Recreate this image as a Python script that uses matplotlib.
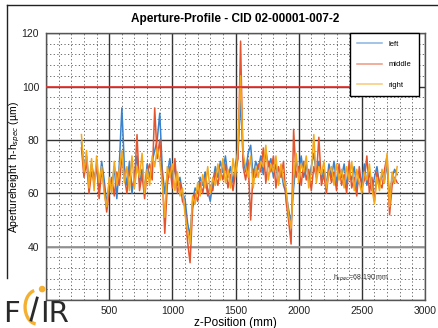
import matplotlib
matplotlib.use("Agg")
import matplotlib.pyplot as plt
import numpy as np
from matplotlib.lines import Line2D
from matplotlib.patches import Arc, Circle

plt.rcParams['font.family'] = ['Liberation Sans', 'DejaVu Sans']

# z positions (mm), one reading every 20 mm
z = np.arange(280, 2781, 20)

left = [79, 70, 74, 64, 71, 66, 69, 62, 72, 65, 56, 64,
        62, 70, 58, 71, 92, 70, 63, 72, 60, 67,
        74, 64, 69, 61, 71, 66, 72, 76, 80, 90,
        69, 60, 67, 73, 65, 70, 63, 66, 60, 58,
        49, 44, 57, 62, 60, 66, 63, 68, 61, 57,
        64, 70, 66, 72, 68, 74, 66, 70, 64, 71,
        76, 95, 73, 68, 75, 78, 66, 72, 69, 74,
        67, 76, 70, 73, 66, 71, 64, 69, 63, 60,
        54, 49, 62, 72, 68, 74, 66, 71, 64, 70,
        75, 67, 72, 65, 69, 63, 71, 66, 72, 64,
        69, 66, 71, 63, 68, 65, 70, 62, 67, 64,
        71, 63, 68, 61, 66, 70, 63, 67, 65, 71,
        58, 66, 69, 67]

middle = [77, 66, 72, 60, 68, 64, 71, 58, 69, 62, 53, 61,
          66, 59, 68, 63, 74, 66, 60, 69, 63, 64,
          82, 61, 67, 58, 68, 71, 65, 92, 73, 80,
          66, 45, 63, 70, 62, 73, 60, 64, 57, 55,
          42, 34, 54, 60, 57, 64, 60, 66, 59, 63,
          61, 68, 63, 69, 65, 71, 62, 67, 61, 68,
          73, 117, 70, 65, 72, 50, 69, 66, 71, 68,
          77, 64, 72, 68, 74, 62, 70, 66, 72, 57,
          50, 41, 84, 66, 70, 63, 72, 65, 69, 61,
          70, 66, 81, 63, 67, 60, 69, 64, 68, 61,
          71, 63, 67, 60, 72, 62, 66, 59, 70, 62,
          65, 74, 60, 66, 57, 68, 64, 62, 69, 74,
          52, 63, 66, 64]

right = [82, 68, 76, 62, 73, 61, 74, 64, 70, 60, 55, 66,
         60, 72, 63, 69, 76, 64, 70, 61, 74, 62,
         70, 66, 75, 60, 69, 63, 74, 70, 77, 72,
         64, 51, 70, 66, 71, 61, 68, 59, 62, 52,
         46, 41, 59, 56, 64, 59, 67, 62, 70, 60,
         66, 63, 71, 65, 73, 64, 69, 62, 73, 66,
         78, 104, 75, 70, 66, 74, 62, 70, 66, 72,
         70, 78, 65, 71, 68, 74, 63, 71, 65, 62,
         52, 47, 66, 75, 64, 71, 68, 74, 62, 68,
         82, 64, 70, 67, 72, 62, 68, 70, 63, 71,
         65, 69, 62, 70, 65, 72, 61, 69, 64, 60,
         68, 65, 71, 62, 56, 66, 61, 69, 64, 75,
         55, 68, 64, 70]

upper_limit = 100
lower_limit = 40
h_spec = "68.190"

fig = plt.figure(figsize=(4.39, 3.28), dpi=100)
ax = fig.add_axes([0.105, 0.085, 0.863, 0.814])

ax.plot(z, left, color='#3a82cc', lw=1.1, label='left')
ax.plot(z, middle, color='#e2552f', lw=1.1, label='middle')
ax.plot(z, right, color='#f3a81c', lw=1.1, label='right')

ax.set_xlim(0, 3000)
ax.set_ylim(20, 120)
ax.set_xticks(np.arange(0, 3001, 500))
ax.set_xticklabels([''] + [str(v) for v in range(500, 3001, 500)])
ax.set_yticks(np.arange(20, 121, 20))
ax.set_yticklabels([''] + [str(v) for v in range(40, 121, 20)])
ax.set_xticks(np.arange(0, 3001, 100), minor=True)
ax.set_yticks(np.arange(20, 121, 4), minor=True)
ax.grid(which='major', color='#333333', lw=1.0, ls='-')
ax.grid(which='minor', color='#555555', lw=0.6, ls=(0, (1.5, 2.8)))
ax.set_axisbelow(True)
ax.tick_params(which='both', length=0, labelsize=7.5, colors='#222222')
ax.tick_params(axis='y', pad=5)
ax.tick_params(axis='x', pad=4)
for s in ax.spines.values():
    s.set_color('#555555')
    s.set_linewidth(1.0)

ax.axhline(lower_limit, color='#999999', lw=1.3, zorder=1.5)

leg = ax.legend(loc='upper right', bbox_to_anchor=(0.984, 1.0), borderaxespad=0,
                fontsize=5.5, handlelength=3.2, handletextpad=0.9,
                labelspacing=1.7, borderpad=1.0, fancybox=False,
                framealpha=1, edgecolor='black')
leg.get_frame().set_linewidth(1.0)
for h in leg.get_lines():
    h.set_alpha(0.6)

ax.hlines(upper_limit, ax.get_xlim()[0], z[-1], color='#e8302a', lw=1.2, zorder=5)

ax.text(0.757, 0.075, 'h$_{spec}$=' + h_spec + ' mm', transform=ax.transAxes,
        fontsize=5, color='#333333')

ax.set_title('Aperture-Profile - CID 02-00001-007-2', fontsize=8.5,
             fontweight='bold', pad=8)
ax.set_xlabel('z-Position (mm)', fontsize=8.5, labelpad=1)
ax.set_ylabel('Apertureheight  h-h$_{spec}$ (\u00b5m)', fontsize=7.5, labelpad=0)

# outer frame (top and left edge only)
fig.add_artist(Line2D([7 / 439, 1], [1 - 5 / 328, 1 - 5 / 328], color='#222222', lw=1))
fig.add_artist(Line2D([7 / 439, 7 / 439], [1 - 5 / 328, 1 - 278 / 328], color='#222222', lw=1))

# FAIR logo
lg = fig.add_axes([0.0, 0.0, 0.16, 0.14])
lg.set_xlim(0, 70)
lg.set_ylim(0, 46)
lg.axis('off')
lg.text(3, 6, 'F', fontsize=21, color='#2a2a2a', family='DejaVu Sans', va='baseline')
lg.add_patch(Arc((37, 21), 24, 34, theta1=100, theta2=265, color='#f4b030', lw=2.4))
lg.add_patch(Circle((42, 39), 2.6, color='#f4b030'))
lg.plot([31, 37], [8, 30], color='#2a2a2a', lw=2)
lg.text(40, 6, 'IR', fontsize=21, color='#2a2a2a', family='DejaVu Sans', va='baseline')

fig.savefig('out.png', dpi=100)
